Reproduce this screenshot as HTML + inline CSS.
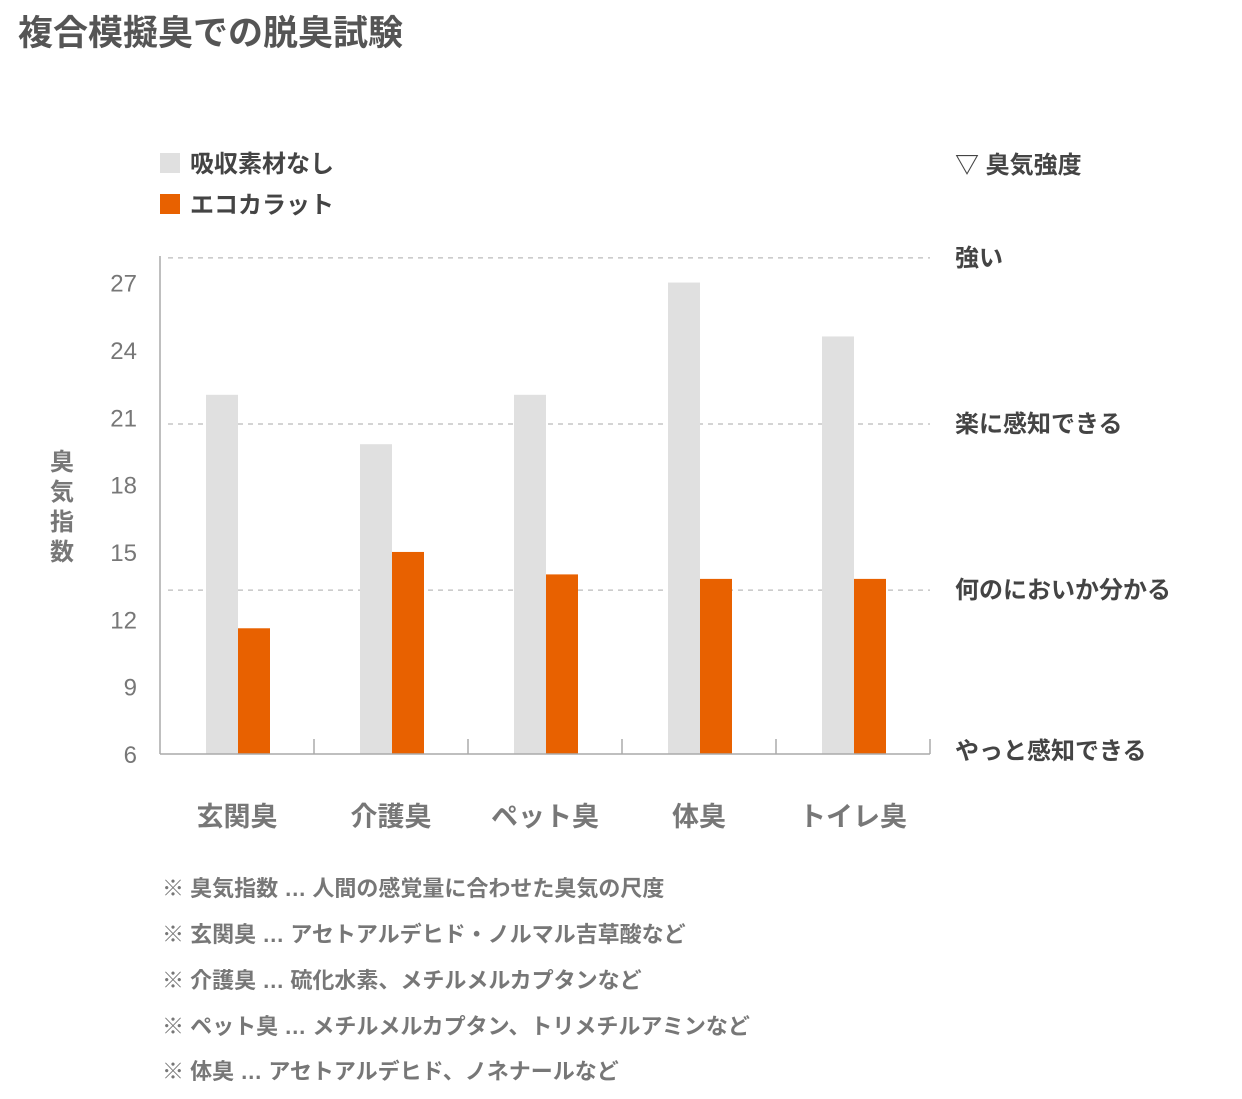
<!DOCTYPE html>
<html><head><meta charset="utf-8">
<style>
body{margin:0;background:#fff;width:1242px;height:1094px;overflow:hidden;font-family:"Liberation Sans","Noto Sans CJK JP",sans-serif;}
svg text{font-family:"Liberation Sans","Noto Sans CJK JP",sans-serif;}
</style></head><body>
<svg width="1242" height="1094">
<text x="18" y="45" font-size="35" font-weight="bold" fill="#555">複合模擬臭での脱臭試験</text>
<rect x="160" y="153" width="20" height="20" fill="#e0e0e0"/>
<text x="190" y="172" font-size="24" font-weight="bold" fill="#444">吸収素材なし</text>
<rect x="160" y="194" width="20" height="20" fill="#e86100"/>
<text x="190" y="213" font-size="24" font-weight="bold" fill="#444">エコカラット</text>
<text x="955" y="173" font-size="24" font-weight="bold" fill="#444">▽ 臭気強度</text>
<g id="plot"></g>
<text font-size="24" font-weight="bold" fill="#777">
<tspan x="50" y="470">臭</tspan><tspan x="50" y="500">気</tspan><tspan x="50" y="530">指</tspan><tspan x="50" y="560">数</tspan></text>
<g font-size="22" font-weight="bold" fill="#777">
<text x="162" y="896">※ 臭気指数 … 人間の感覚量に合わせた臭気の尺度</text>
<text x="162" y="942">※ 玄関臭 … アセトアルデヒド・ノルマル吉草酸など</text>
<text x="162" y="988">※ 介護臭 … 硫化水素、メチルメルカプタンなど</text>
<text x="162" y="1034">※ ペット臭 … メチルメルカプタン、トリメチルアミンなど</text>
<text x="162" y="1079">※ 体臭 … アセトアルデヒド、ノネナールなど</text>
</g>
</svg>
<script>
const categories=["玄関臭","介護臭","ペット臭","体臭","トイレ臭"];
const noneValues=[22,19.8,22,27,24.6];
const ecoValues=[11.6,15,14,13.8,13.8];
const yTicks=[6,9,12,15,18,21,24,27];
const intensityLabels=["やっと感知できる","何のにおいか分かる","楽に感知できる","強い"];
const intensityLevels=[6,13.3,20.7,28.1];
const NS="http://www.w3.org/2000/svg";
const g=document.getElementById('plot');
const X0=160,X1=930,Y6=754,PX=22.45;
function y(v){return Y6-(v-6)*PX;}
const gw=(X1-X0)/categories.length;
function gx(i){return X0+gw*i+gw/2;}
function el(t,a){const e=document.createElementNS(NS,t);for(const k in a)e.setAttribute(k,a[k]);g.appendChild(e);return e;}
intensityLevels.forEach((v,i)=>{
  if(i>0){const l=el('line',{x1:168,x2:X1,y1:y(v),y2:y(v),stroke:'#bbb','stroke-width':1.3,'stroke-dasharray':'5,5'});
  
  }
  const t=el('text',{x:955,y:y(v)+(i==0?5:8),'font-size':24,'font-weight':'bold',fill:'#444'});
  t.textContent=intensityLabels[i];
  
  
});
yTicks.forEach(v=>{
  const t=el('text',{x:137,y:y(v)+9,'font-size':24,fill:'#777','text-anchor':'end'});
  t.textContent=v;
  
  
});
categories.forEach((c,i)=>{
  const c0=gx(i);
  const b1=el('rect',{x:c0-31,y:y(noneValues[i]),width:32,height:Y6-y(noneValues[i]),fill:'#e0e0e0'});
  
  
  const b2=el('rect',{x:c0+1,y:y(ecoValues[i]),width:32,height:Y6-y(ecoValues[i]),fill:'#e86100'});
  
  
  const t=el('text',{x:c0,y:826,'font-size':27,'font-weight':'bold',fill:'#777','text-anchor':'middle'});
  t.textContent=c;
  
  
  const tk=el('line',{x1:X0+gw*(i+1),x2:X0+gw*(i+1),y1:Y6-15,y2:Y6,stroke:'#aaa','stroke-width':1.5});
  
  
});
const ax=el('line',{x1:X0,x2:X0,y1:256,y2:Y6,stroke:'#aaa','stroke-width':1.5});


const bx=el('line',{x1:X0,x2:X1,y1:Y6,y2:Y6,stroke:'#aaa','stroke-width':1.5});


</script>
</body></html>
